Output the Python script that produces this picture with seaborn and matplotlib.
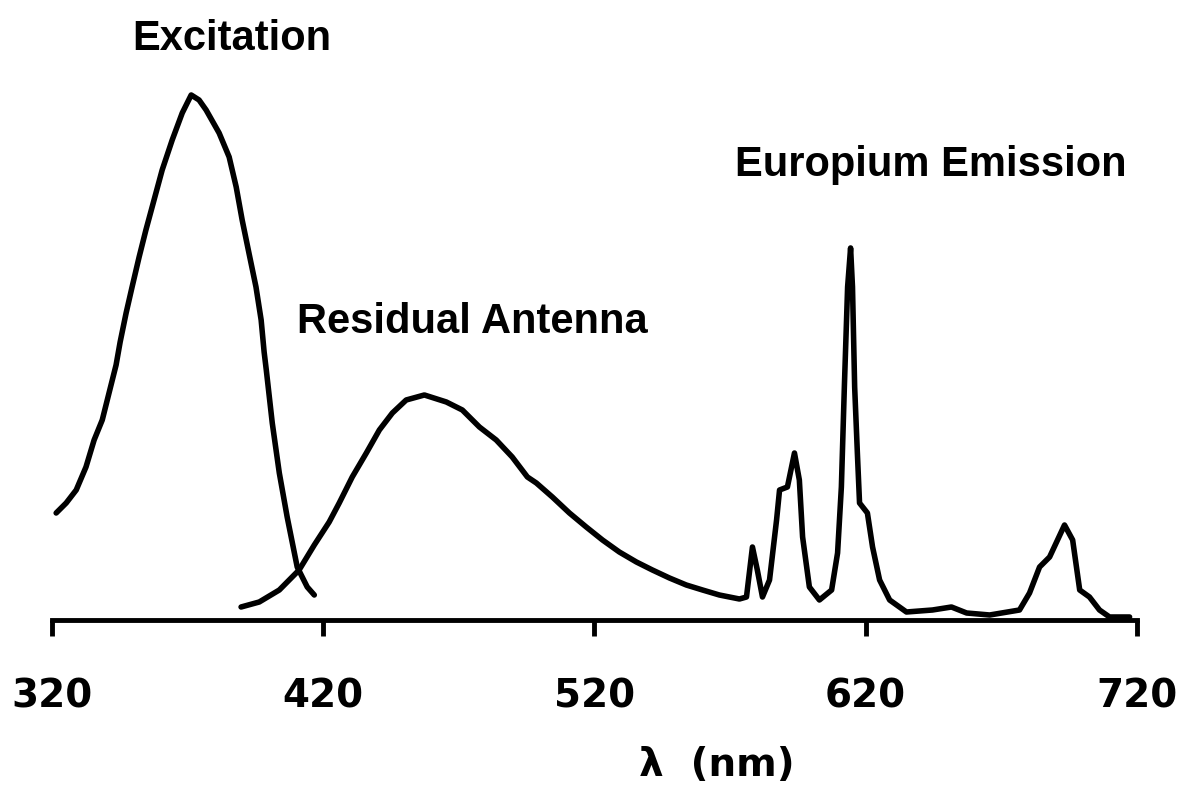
import matplotlib
matplotlib.use("Agg")
import matplotlib.pyplot as plt
import seaborn as sns
import pandas as pd

# values (intensity in arbitrary units)
excitation_nm = [321.5, 325.2, 328.9, 332.5, 335.5, 338.5, 341.0, 343.6, 345.1, 347.3,
                 349.5, 352.1, 354.6, 357.6, 360.6, 364.3, 368.0, 371.3, 374.2, 376.8,
                 381.6, 385.3, 387.9, 390.1, 392.6, 395.2, 397.1, 398.2, 399.0, 401.2,
                 403.8, 406.7, 410.4, 414.1, 416.7]
excitation_int = [107, 117, 130, 153, 180, 200, 227, 255, 278, 307,
                  333, 363, 390, 420, 450, 480, 507, 525, 520, 510,
                  487, 463, 433, 400, 367, 333, 300, 268, 250, 197,
                  147, 103, 53, 33, 25]

emission_nm = [389.7, 396.4, 403.8, 411.1, 416.7, 422.2, 425.9, 430.7, 435.9, 440.7,
               445.5, 450.6, 457.3, 465.4, 471.3, 477.6, 483.8, 489.7, 495.3, 498.6,
               504.5, 510.8, 517.0, 523.0, 529.2, 535.5, 541.4, 547.7, 553.9, 559.9,
               566.1, 573.5, 576.1, 578.3, 580.1, 582.0, 584.6, 587.2, 588.3, 591.2,
               593.8, 595.6, 596.8, 599.3, 603.0, 607.5, 609.7, 611.1, 612.2, 613.4,
               614.5, 615.2, 616.0, 617.0, 617.8, 620.7, 622.6, 625.2, 628.9, 635.1,
               644.7, 651.7, 657.3, 665.8, 676.8, 680.5, 684.2, 687.9, 693.4, 696.4,
               699.0, 702.6, 706.3, 710.0, 717.4]
emission_int = [13, 18, 30, 50, 75, 98, 117, 143, 167, 190,
                207, 220, 225, 218, 210, 193, 180, 163, 143, 137,
                123, 107, 93, 80, 68, 58, 50, 42, 35, 30,
                25, 21, 23, 73, 50, 23, 40, 100, 130, 133,
                167, 140, 83, 33, 20, 30, 67, 133, 233, 333,
                372, 333, 233, 167, 117, 107, 73, 40, 20, 8,
                10, 13, 7, 5, 10, 27, 53, 63, 95, 80,
                30, 23, 10, 3, 3]

tick_values = [320, 420, 520, 620, 720]
labels = ["Excitation", "Residual Antenna", "Europium Emission"]

sns.set_theme(style="white")
plt.rcParams['font.family'] = ['Liberation Sans', 'DejaVu Sans']
plt.rcParams['text.color'] = 'black'
plt.rcParams['xtick.color'] = 'black'
plt.rcParams['axes.labelcolor'] = 'black'

fig = plt.figure(figsize=(11.84, 7.87), dpi=100)
ax = fig.add_axes([0.044, 0.2122, 0.916, 0.7116])

exc = pd.DataFrame({"nm": excitation_nm, "intensity": excitation_int})
emi = pd.DataFrame({"nm": emission_nm, "intensity": emission_int})
sns.lineplot(data=exc, x="nm", y="intensity", sort=False, estimator=None,
             color="black", lw=4, ax=ax)
sns.lineplot(data=emi, x="nm", y="intensity", sort=False, estimator=None,
             color="black", lw=4, ax=ax)

ax.set_xlim(320, 720)
ax.set_ylim(0, 560)
ax.set_yticks([])
ax.set_ylabel("")
for s in ["left", "right", "top"]:
    ax.spines[s].set_visible(False)
ax.spines["bottom"].set_linewidth(3.5)
ax.spines["bottom"].set_color("black")
ax.set_xticks(tick_values)
ax.tick_params(axis="x", direction="out", length=11.5, width=3.5, color="black",
               pad=30, labelsize=28, bottom=True)
for t in ax.get_xticklabels():
    t.set_fontweight("bold")
    t.set_family("DejaVu Sans")

ax.set_xlabel("λ  (nm)", fontsize=28, fontweight="bold", family="DejaVu Sans")
ax.xaxis.set_label_coords(0.613, -0.259)
ax.xaxis.label.set_va("center")

ax.text(349.5, 570, labels[0], fontsize=30, fontweight="bold", ha="left", va="baseline")
ax.text(410.4, 287, labels[1], fontsize=30, fontweight="bold", ha="left", va="baseline")
ax.text(571.7, 444, labels[2], fontsize=30, fontweight="bold", ha="left", va="baseline")

fig.savefig("out.png", dpi=100, facecolor="white")
